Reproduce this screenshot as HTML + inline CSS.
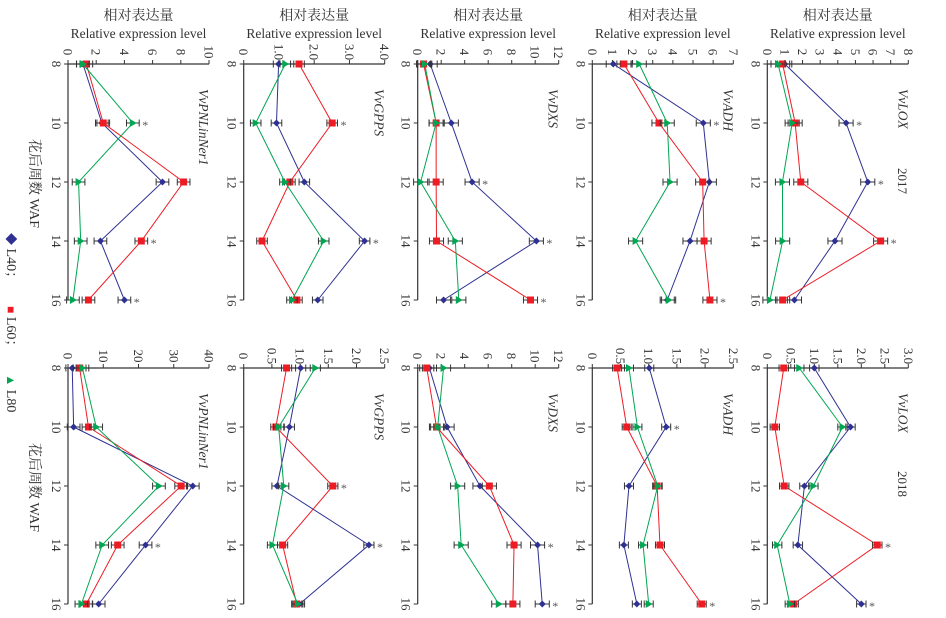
<!DOCTYPE html>
<html><head><meta charset="utf-8"><style>
html,body{margin:0;padding:0;background:#fff;}
svg{display:block;font-family:"Liberation Serif","Noto Serif CJK SC",serif;}
</style></head><body>
<svg id="fig" width="946" height="618" viewBox="0 0 946 618" xmlns="http://www.w3.org/2000/svg">
<g fill="#333" font-size="13.5" text-anchor="middle"></g>
</svg>
<script>
// ---- data ----
const weeks = [8, 10, 12, 14, 16];
const genes = ["VvPNLinNer1", "VvGPPS", "VvDXS", "VvADH", "VvLOX"];
const years = ["2017", "2018"];
const maxes2017 = [10, 4, 12, 7, 8];
const maxes2018 = [40, 2.5, 12, 2.5, 3];
const ticks2017 = [["0","2","4","6","8","10"],["0","1.0","2.0","3.0","4.0"],["0","2","4","6","8","10","12"],["0","1","2","3","4","5","6","7"],["0","1","2","3","4","5","6","7","8"]];
const ticks2018 = [["0","10","20","30","40"],["0","0.5","1.0","1.5","2.0","2.5"],["0","2","4","6","8","10","12"],["0","0.5","1.0","1.5","2.0","2.5"],["0","0.5","1.0","1.5","2.0","2.5","3.0"]];
// L40 / L60 / L80 values per panel (2017)
const l40_2017 = [[1.06,2.4,6.7,2.3,4.0],[0.99,0.93,1.72,3.43,2.1],[1.06,2.86,4.63,10.1,2.2],[1.04,5.51,5.81,4.85,3.72],[0.99,4.47,5.7,3.84,1.54]];
const l60_2017 = [[1.3,2.5,8.2,5.2,1.45],[1.57,2.51,1.31,0.52,1.51],[0.5,1.57,1.57,1.6,9.6],[1.57,3.31,5.48,5.55,5.84],[0.87,1.58,1.9,6.43,0.87]];
const l80_2017 = [[1.05,4.6,0.75,0.9,0.35],[1.18,0.34,1.17,2.27,1.37],[0.6,1.57,0.25,3.2,3.5],[2.33,3.72,3.86,2.15,3.79],[0.61,1.41,0.86,0.87,0.15]];
// 2018
const l40_2018 = [[1.2,1.6,35.4,22,8.7],[1.01,0.81,0.59,2.22,0.99],[1.0,2.5,5.3,10.2,10.6],[1.01,1.31,0.65,0.56,0.79],[1.0,1.77,0.79,0.65,2.0]];
const l60_2018 = [[3.3,5.8,32.1,14.1,5.2],[0.76,0.57,1.58,0.69,0.94],[0.77,1.6,6.1,8.2,8.1],[0.44,0.61,1.15,1.2,1.94],[0.35,0.16,0.36,2.34,0.56]];
const l80_2018 = [[4.1,8,25.8,9.7,3.8],[1.27,0.62,0.71,0.51,0.96],[2.2,1.7,3.4,3.7,6.9],[0.65,0.8,1.16,0.9,1.0],[0.68,1.6,0.98,0.21,0.48]];
const err2017 = [0.45,0.15,0.6,0.35,0.4];
const err2018 = [1.8,0.09,0.6,0.08,0.1];
// asterisks: [series index, week index]
const stars2017 = [[[2,1],[1,3],[0,4]],[[1,1],[0,3]],[[0,2],[0,3],[1,4]],[[0,1],[1,4]],[[0,1],[0,2],[1,3]]];
const stars2018 = [[[0,3]],[[1,2],[0,3]],[[0,3],[0,4]],[[0,1],[1,4]],[[0,4],[1,3]]];

// ---- layout ----
const NS = "http://www.w3.org/2000/svg";
const svg = document.getElementById('fig');
const panelX0 = [68, 243.7, 417.7, 592.3, 767.3];
const panelW = 141;
const rowTop = [64, 368];
const weekSpan = 236;
const colors = ["#2e3192", "#ed1c24", "#00a651"];
function mk(tag, attrs, parent){const e=document.createElementNS(NS,tag);for(const k in attrs)e.setAttribute(k,attrs[k]);(parent||svg).appendChild(e);return e;}
function wy(r, w){return rowTop[r] + (w-8)/8*weekSpan;}

const titleG = svg.querySelector('g');
for (let p=0;p<5;p++){
  const cx = panelX0[p]+panelW/2;
  const t1 = mk('text',{x:cx,y:20,'font-size':14},titleG);
  t1.textContent = "相对表达量";
  
  
  const t2 = mk('text',{x:cx,y:38,'font-size':13.5},titleG);
  t2.textContent = "Relative expression level";
  
  
}

function rtext(x,y,str,attrs,parent){
  const t = mk('text',Object.assign({transform:`translate(${x},${y}) rotate(90)`},attrs||{}),parent);
  t.textContent = str; return t;
}

for (let r=0;r<2;r++){
  const maxes = r===0?maxes2017:maxes2018;
  const ticks = r===0?ticks2017:ticks2018;
  const sets = r===0?[l40_2017,l60_2017,l80_2017]:[l40_2018,l60_2018,l80_2018];
  const errs = r===0?err2017:err2018;
  const stars = r===0?stars2017:stars2018;
  for (let p=0;p<5;p++){
    const g = mk('g',{});
    
    
    const x0 = panelX0[p];
    const vx = v => x0 + v/maxes[p]*panelW;
    const top = rowTop[r];
    const ax = mk('path',{d:`M${x0},${top} H${x0+panelW} M${x0},${top} V${top+weekSpan}`,stroke:'#333','stroke-width':1.2,fill:'none'},g);
    
    
    const nt = ticks[p].length;
    ticks[p].forEach((lab,i)=>{
      const v = i*maxes[p]/(nt-1);
      const x = vx(v);
      mk('line',{x1:x,x2:x,y1:top,y2:top-4,stroke:'#333','stroke-width':1},g);
      const t = rtext(x-4.5, top-12, lab, {'font-size':13,'text-anchor':'middle',fill:'#333'}, g);
      
      
    });
    weeks.forEach(w=>{
      const y = wy(r,w);
      mk('line',{x1:x0,x2:x0-4,y1:y,y2:y,stroke:'#333','stroke-width':1},g);
      const t = rtext(x0-16, y, String(w), {'font-size':13,'text-anchor':'middle',fill:'#333'}, g);
      
      
    });
    const gl = rtext(x0+panelW-10, top+25, genes[p], {'font-size':13.5,'font-style':'italic',fill:'#333'}, g);
    
    
    sets.forEach((set,s)=>{
      const vals = set[p];
      const pts = vals.map((v,i)=>[vx(v), wy(r,weeks[i])]);
      const line = mk('polyline',{points:pts.map(q=>q.join(',')).join(' '),fill:'none',stroke:colors[s],'stroke-width':1}, g);
      
      
      pts.forEach(([x,y],i)=>{
        const e = errs[p]/maxes[p]*panelW;
        const eb = mk('path',{d:`M${x-e},${y} H${x+e} M${x-e},${y-3.5} V${y+3.5} M${x+e},${y-3.5} V${y+3.5}`,stroke:'#333','stroke-width':1,fill:'none'},g);
        
        
        let m;
        if (s===0) m = mk('path',{d:`M${x},${y-3.5} L${x+3.5},${y} L${x},${y+3.5} L${x-3.5},${y} Z`,fill:colors[0]},g);
        else if (s===1) m = mk('rect',{x:x-3.5,y:y-3.5,width:7,height:7,fill:colors[1]},g);
        else m = mk('path',{d:`M${x+4},${y} L${x-3},${y-4} L${x-3},${y+4} Z`,fill:colors[2]},g);
        
        
      });
    });
    stars[p].forEach(([s,i])=>{
      const x = vx(sets[s][p][i]) + errs[p]/maxes[p]*panelW + 3;
      const y = wy(r,weeks[i]);
      const t = mk('text',{x:x,y:y+6,'font-size':12,fill:'#555'},g);
      t.textContent = "*";
      
      
    });
  }
  const xt = rtext(30, r===0?139:443, "花后周数 WAF", {'font-size':14,fill:'#333'});
  
  
  const yl = rtext(898, r===0?168:471, years[r], {'font-size':13,fill:'#333'});
  
  
}
// legend
const leg = rtext(7, 233, "", {'font-size':14,fill:'#333'});


leg.setAttribute('style','white-space:pre');
[["◆",colors[0]," L40；      "],["■",colors[1]," L60；      "],["▲",colors[2]," L80"]].forEach(([sym,c,lab])=>{
  const a = mk('tspan',{fill:c,'font-size':12},leg); a.textContent = sym;
  const b = mk('tspan',{fill:'#333'},leg); b.textContent = lab;
});
</script>
</body></html>
